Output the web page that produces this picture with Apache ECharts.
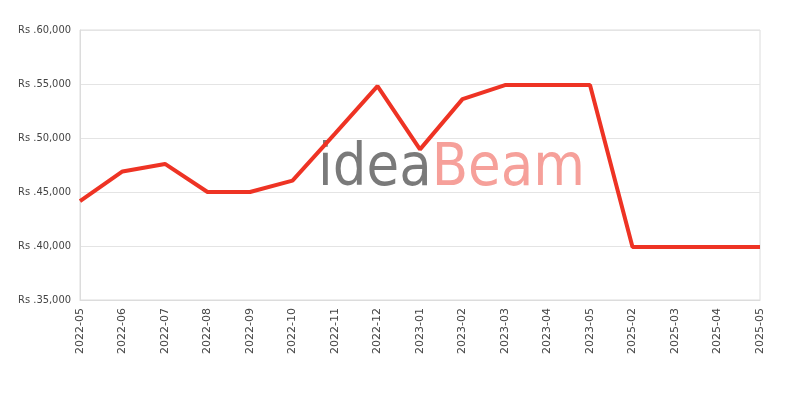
<!DOCTYPE html>
<html>
<head>
<meta charset="utf-8">
<script src="https://cdn.jsdelivr.net/npm/echarts@6/dist/echarts.min.js"></script>
<style>
  html, body { margin: 0; padding: 0; background: #fff; }
  #main { width: 800px; height: 400px; }
</style>
</head>
<body>
<div id="main"></div>
<script>
// 月份
var months = ['2022-05', '2022-06', '2022-07', '2022-08', '2022-09', '2022-10', '2022-11', '2022-12',
  '2023-01', '2023-02', '2023-03', '2023-04', '2023-05', '2025-02', '2025-03', '2025-04', '2025-05'];
// 价格 (Rs)
var prices = [44150, 46900, 47600, 45000, 45000, 46050, 50400, 54800,
  48950, 53600, 54900, 54900, 54900, 39900, 39900, 39900, 39900];

(function () {
  var myChart = echarts.init(document.getElementById('main'));
  var option = {
    animation: false,
    grid: {
      left: 80,
      right: 40,
      top: 30,
      bottom: 100,
      show: true,
      borderColor: '#dcdcdc',
      borderWidth: 1
    },
    graphic: [{
      type: 'text',
      left: 318,
      top: 140,
      z: -1,
      style: {
        text: '{a|idea}{b|Beam}',
        rich: {
          a: { fontSize: 59, fontFamily: 'DejaVu Sans Condensed', fill: '#7a7a7a' },
          b: { fontSize: 59, fontFamily: 'DejaVu Sans Condensed', fill: '#f6a09a' }
        }
      }
    }],
    xAxis: {
      type: 'category',
      data: months,
      boundaryGap: false,
      axisLine: { lineStyle: { color: '#dcdcdc' } },
      axisTick: { show: false },
      axisLabel: {
        rotate: 90,
        color: '#444',
        fontSize: 11,
        fontFamily: 'DejaVu Sans',
        margin: 8
      },
      splitLine: { show: false }
    },
    yAxis: {
      type: 'value',
      min: 35000,
      max: 60000,
      interval: 5000,
      axisLine: { show: true, lineStyle: { color: '#dcdcdc' } },
      axisTick: { show: false },
      axisLabel: {
        color: '#444',
        fontSize: 11,
        fontFamily: 'DejaVu Sans Condensed',
        margin: 9,
        formatter: function (v) {
          return 'Rs .' + v.toLocaleString('en-US');
        }
      },
      splitLine: { lineStyle: { color: '#e4e4e4' } }
    },
    series: [{
      type: 'line',
      data: prices,
      symbol: 'none',
      z: 5,
      lineStyle: { color: '#ee3324', width: 4 }
    }]
  };
  myChart.setOption(option);
  window.addEventListener('resize', function () {
    myChart.resize();
  });
})();
</script>
</body>
</html>
